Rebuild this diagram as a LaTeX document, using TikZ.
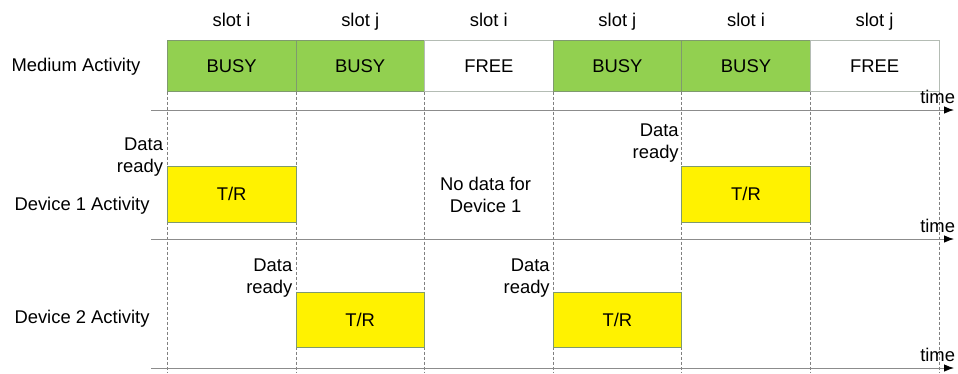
\documentclass[tikz,border=0pt]{standalone}
\usepackage{fontspec}
\setmainfont{Liberation Sans}
\usetikzlibrary{arrows.meta}
\definecolor{busygreen}{HTML}{92D050}
\definecolor{busyline}{HTML}{7F9A6E}
\definecolor{freeline}{HTML}{B4BCB4}

\begin{document}
\begin{tikzpicture}[x=1pt,y=-1pt,
    every node/.style={font=\fontsize{18.4}{21.5}\selectfont,inner sep=0pt,outer sep=0pt},
    busy/.style={draw=busyline,line width=.8pt,fill=busygreen,minimum width=128.6pt,minimum height=51.5pt},
    free/.style={draw=freeline,line width=.8pt,fill=white,minimum width=128.6pt,minimum height=51.5pt},
    trbox/.style={draw=busyline,line width=.8pt,fill=yellow,minimum width=128.6pt,minimum height=56pt},
    ready/.style={align=right,anchor=east},
    guide/.style={draw=black!50,line width=.7pt,dash pattern=on 3pt off 2pt},
    axis/.style={draw=black!45,line width=.9pt,-{Latex[black,length=10pt,width=7.5pt]}}]
  \useasboundingbox (0,0) rectangle (958,373);
  \coordinate (bot) at (0,373);

  % Medium row
  \node[busy] (M1) at (231.6,65.75) {BUSY};
  \node[busy] (M2) at (360.2,65.75) {BUSY};
  \node[free] (M3) at (488.8,65.75) {FREE};
  \node[busy] (M4) at (617.4,65.75) {BUSY};
  \node[busy] (M5) at (746,65.75)   {BUSY};
  \node[free] (M6) at (874.6,65.75) {FREE};
  \node[anchor=base] (S1) at (231.6,26.5) {slot i};
  \node[anchor=base] (S2) at (360.2,26.5) {slot j};
  \node[anchor=base] (S3) at (488.8,26.5) {slot i};
  \node[anchor=base] (S4) at (617.4,26.5) {slot j};
  \node[anchor=base] (S5) at (746,26.5)   {slot i};
  \node[anchor=base] (S6) at (874.6,26.5) {slot j};
  \node[anchor=base] (LM) at (76,71.7)  {Medium Activity};
  \node[anchor=base] (L1) at (82,210)   {Device 1 Activity};
  \node[anchor=base] (L2) at (82,323.5) {Device 2 Activity};

  % slot boundaries
  \draw[guide] (M1.south west) -- (M1.south west |- bot);
  \draw[guide] (M2.south west) -- (M2.south west |- bot);
  \draw[guide] (M3.south west) -- (M3.south west |- bot);
  \draw[guide] (M4.south west) -- (M4.south west |- bot);
  \draw[guide] (M5.south west) -- (M5.south west |- bot);
  \draw[guide] (M6.south west) -- (M6.south west |- bot);
  \draw[guide] (M6.south east) -- (M6.south east |- bot);

  % Device rows
  \node[trbox] (D1a) at (231.6,194) {T/R};
  \node[trbox] (D1b) at (746,194)   {T/R};
  \node[trbox,minimum height=55.5pt] (D2a) at (360.2,320) {T/R};
  \node[trbox,minimum height=55.5pt] (D2b) at (617.4,320) {T/R};
  \node[ready] (R1a) at (163,157.2)   {Data\\ready};
  \node[ready] (R1b) at (678.7,143.3) {Data\\ready};
  \node[ready] (R2a) at (292.3,277.9) {Data\\ready};
  \node[ready] (R2b) at (549.7,277.9) {Data\\ready};
  \node[align=center] (ND) at (485.6,195) {No data for\\Device 1};

  % time axes
  \coordinate (A1s) at (151,110); \coordinate (A1e) at (954,110);
  \coordinate (A2s) at (151,239); \coordinate (A2e) at (954,239);
  \coordinate (A3s) at (151,368); \coordinate (A3e) at (954,368);
  \draw[axis] (A1s) -- (A1e);
  \draw[axis] (A2s) -- (A2e);
  \draw[axis] (A3s) -- (A3e);
  \node[anchor=base east] (T1) at (955,103.5) {time};
  \node[anchor=base east] (T2) at (955,232.5) {time};
  \node[anchor=base east] (T3) at (955,361.5) {time};
\end{tikzpicture}
\end{document}
